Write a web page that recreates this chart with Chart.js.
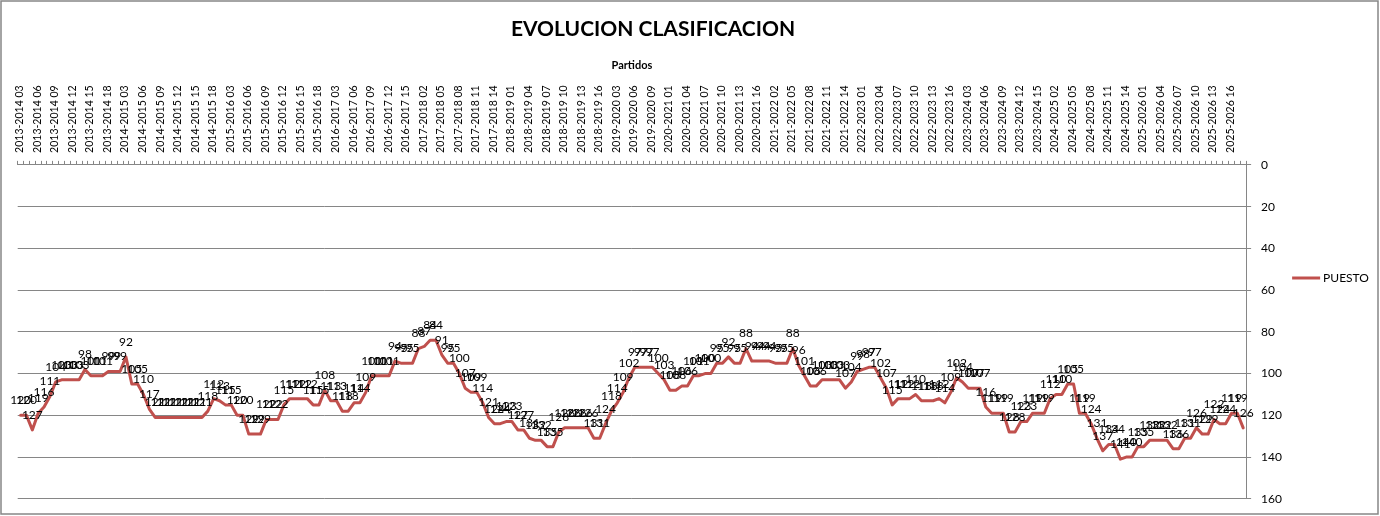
<!DOCTYPE html>
<html>
<head>
<meta charset="utf-8">
<title>Evolucion clasificacion</title>
<script src="https://cdn.jsdelivr.net/npm/chart.js@4.4.1/dist/chart.umd.min.js"></script>
<style>
  html, body { margin: 0; padding: 0; background: #fff; }
  #wrap { width: 1380px; height: 516px; }
</style>
</head>
<body>
<div id="wrap"><canvas id="chart" width="1380" height="516"></canvas></div>
<script>
// seasons and how many matches each one has on the axis
const seasons = ["2013-2014", "2014-2015", "2015-2016", "2016-2017", "2017-2018", "2018-2019",
  "2019-2020", "2020-2021", "2021-2022", "2022-2023", "2023-2024", "2024-2025", "2025-2026"];
const matchCounts = [18, 18, 18, 16, 16, 16, 11, 17, 16, 16, 16, 16, 16];

// position after every match (one line per season)
const puesto = [
  120, 120, 127, 119, 116, 111, 104, 103, 103, 103, 103, 98, 101, 101, 101, 99, 99, 99,
  92, 105, 105, 110, 117, 121, 121, 121, 121, 121, 121, 121, 121, 121, 118, 112, 113, 115,
  115, 120, 120, 129, 129, 129, 122, 122, 122, 115, 112, 112, 112, 112, 115, 115, 108, 113,
  113, 118, 118, 114, 114, 109, 101, 101, 101, 101, 94, 95, 95, 95, 88, 87,
  84, 84, 91, 95, 95, 100, 107, 109, 109, 114, 121, 124, 124, 123, 123, 127,
  127, 131, 132, 132, 135, 135, 128, 126, 126, 126, 126, 126, 131, 131, 124, 118,
  114, 109, 102, 97, 97, 97, 97, 100, 103, 108, 108,
  106, 106, 101, 101, 100, 100, 95, 95, 92, 95, 95, 88, 94, 94, 94, 94, 95,
  95, 95, 88, 96, 101, 106, 106, 103, 103, 103, 103, 107, 104, 99, 98, 97,
  97, 102, 107, 115, 112, 112, 112, 110, 113, 113, 113, 112, 114, 109, 102, 104,
  107, 107, 107, 116, 119, 119, 119, 128, 128, 123, 123, 119, 119, 119, 112, 110,
  110, 105, 105, 119, 119, 124, 131, 137, 134, 134, 141, 140, 140, 135, 135, 132,
  132, 132, 132, 136, 136, 131, 131, 126, 129, 129, 122, 124, 124, 119, 119, 126
];

const yMin = 0;
const yMax = 160;
const yStep = 20;
const labelEvery = 3;   // only every third match is written on the axis

const labels = [];
seasons.forEach((s, k) => {
  for (let m = 1; m <= matchCounts[k]; m++) {
    labels.push(s + " " + String(m).padStart(2, "0"));
  }
});

const RED = "#c0504d";
const GRAY = "#868686";
const FONT = "Lato, 'Liberation Sans', sans-serif";

// value written above every point, like the excel data labels
const valueLabels = {
  id: "valueLabels",
  afterDatasetsDraw(chart) {
    const ctx = chart.ctx;
    const meta = chart.getDatasetMeta(0);
    const data = chart.data.datasets[0].data;
    ctx.save();
    ctx.font = "12px " + FONT;
    ctx.fillStyle = "#000";
    ctx.textAlign = "center";
    ctx.textBaseline = "middle";
    meta.data.forEach((pt, i) => {
      ctx.fillText(String(data[i]), pt.x, pt.y - 15);
    });
    ctx.restore();
  }
};

// legend box on the right and the outer frame of the chart
const frameAndLegend = {
  id: "frameAndLegend",
  afterDraw(chart) {
    const ctx = chart.ctx;
    const ds = chart.data.datasets[0];
    const lx = chart.chartArea.right + 46;
    const ly = 278;
    ctx.save();
    ctx.strokeStyle = ds.borderColor;
    ctx.lineWidth = 3;
    ctx.beginPath();
    ctx.moveTo(lx, ly);
    ctx.lineTo(lx + 28, ly);
    ctx.stroke();
    ctx.font = "12px " + FONT;
    ctx.fillStyle = "#000";
    ctx.textAlign = "left";
    ctx.textBaseline = "middle";
    ctx.fillText(ds.label, lx + 31, ly);

    ctx.strokeStyle = GRAY;
    ctx.lineWidth = 1.5;
    ctx.strokeRect(1, 1, chart.width - 3, chart.height - 3);
    ctx.restore();
  }
};

new Chart(document.getElementById("chart"), {
  type: "line",
  data: {
    labels,
    datasets: [{
      label: "PUESTO",
      data: puesto,
      borderColor: RED,
      backgroundColor: RED,
      borderWidth: 3,
      pointRadius: 0,
      pointHoverRadius: 0,
      tension: 0,
      borderJoinStyle: "round",
      borderCapStyle: "round"
    }]
  },
  options: {
    responsive: false,
    animation: false,
    layout: { padding: { left: 14, right: 88, top: 0, bottom: 7 } },
    plugins: {
      legend: { display: false },
      tooltip: { enabled: false },
      title: {
        display: true,
        text: "EVOLUCION CLASIFICACION",
        color: "#000",
        font: { family: FONT, size: 21, weight: "bold" },
        padding: { top: 17, bottom: 17 }
      }
    },
    scales: {
      x: {
        position: "top",
        offset: true,
        title: {
          display: true,
          text: "Partidos",
          color: "#000",
          font: { family: FONT, size: 11, weight: "bold" },
          padding: { top: 0, bottom: 5 }
        },
        ticks: {
          autoSkip: false,
          minRotation: 90,
          maxRotation: 90,
          padding: 8,
          color: "#000",
          font: { family: FONT, size: 10.5 },
          callback: (v, i) => (i % labelEvery === labelEvery - 1 ? labels[i] : "")
        },
        grid: { offset: true, drawOnChartArea: false, drawTicks: true, tickLength: 4, color: GRAY },
        border: { display: true, color: GRAY }
      },
      y: {
        position: "right",
        reverse: true,
        min: yMin,
        max: yMax,
        ticks: {
          stepSize: yStep,
          padding: 10,
          color: "#000",
          font: { family: FONT, size: 12 }
        },
        grid: { color: GRAY, tickLength: 5 },
        border: { display: true, color: GRAY }
      }
    }
  },
  plugins: [valueLabels, frameAndLegend]
});
</script>
</body>
</html>
